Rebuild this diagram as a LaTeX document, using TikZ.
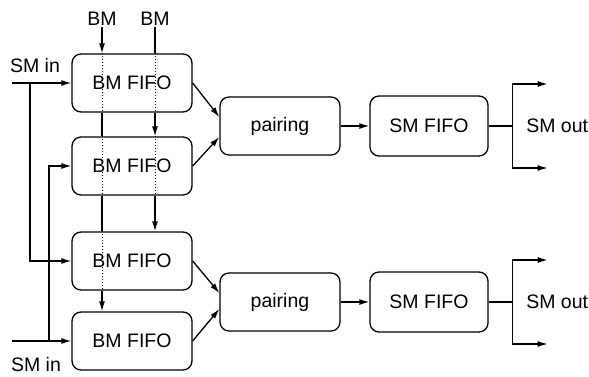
\documentclass[tikz,border=0pt]{standalone}
\usepackage{fontspec}
\setmainfont{Liberation Sans}
\usetikzlibrary{arrows.meta}

\begin{document}
\begin{tikzpicture}[x=1pt, y=-1pt, font=\fontsize{19.5}{23}\selectfont,
    line width=1.3pt, >={Latex[length=10pt,width=6pt]},
    fifo/.style={draw, rounded corners=9pt, minimum width=120pt,
                 minimum height=58pt, inner sep=0pt},
    label/.style={inner sep=1pt}]
        \useasboundingbox (0,0) rectangle (589,377);

        % BM FIFOs
        \node[fifo] (f1) at (132,83)  {BM FIFO};
        \node[fifo] (f2) at (132,166) {BM FIFO};
        \node[fifo] (f3) at (132,261) {BM FIFO};
        \node[fifo] (f4) at (132,341) {BM FIFO};

        % pairing and SM FIFOs
        \node[fifo] (p1) at (280,126) {pairing};
        \node[fifo] (p2) at (280,302) {pairing};
        \node[fifo, minimum width=118pt, minimum height=60pt] (s1) at (429,126) {SM FIFO};
        \node[fifo, minimum width=118pt, minimum height=60pt] (s2) at (429,302) {SM FIFO};

        % labels
        \node[label] (bmL) at (102,19) {BM};
        \node[label] (bmR) at (155,19) {BM};
        \node[label] (inA) at (35,66)  {SM in};
        \node[label] (inB) at (36,365) {SM in};

        % BM column left
        \draw[->] (bmL.south) -- (bmL.south |- f1.north);
        \draw (bmL.south |- f1.south) -- (bmL.south |- f2.north);
        \draw (bmL.south |- f2.south) -- (bmL.south |- f3.north);
        \draw[->] (bmL.south |- f3.south) -- (bmL.south |- f4.north);
        \foreach \f in {f1,f2,f3}
            \draw[dotted, line width=1pt] (bmL.south |- \f.north) -- (bmL.south |- \f.south);

        % BM column right
        \draw (bmR.south) -- (bmR.south |- f1.north);
        \draw[->] (bmR.south |- f1.south) -- (bmR.south |- f2.north);
        \draw[->] (bmR.south |- f2.south) -- (bmR.south |- f3.north);
        \foreach \f in {f1,f2}
            \draw[dotted, line width=1pt] (bmR.south |- \f.north) -- (bmR.south |- \f.south);

        % SM inputs
        \coordinate (inTop) at (12,83);
        \coordinate (brTop) at (30,83);
        \coordinate (inBot) at (12,341);
        \coordinate (brBot) at (49,341);
        \draw[->] (inTop) -- (f1.west);
        \draw[->] (brTop) |- (f3.west);
        \draw[->] (inBot) -- (f4.west);
        \draw[->] (brBot) |- (f2.west);

        % into pairing
        \draw[->] (f1.east) -- ([yshift=9pt]p1.west);
        \draw[->] (f2.east) -- ([yshift=-11pt]p1.west);
        \draw[->] (f3.east) -- ([yshift=9pt]p2.west);
        \draw[->] (f4.east) -- ([yshift=-7pt]p2.west);
        \draw[->] (p1) -- (s1);
        \draw[->] (p2) -- (s2);

        % SM outputs
        \foreach \s in {1,2} {
            \draw (s\s.east) -- ++(24,0) coordinate (b\s);
            \draw[->] (b\s) -- ++(0,-42) -- ++(35,0);
            \draw[->] (b\s) -- ++(0,42) -- ++(35,0);
            \node[label, anchor=west] (out\s) at ([xshift=12pt]b\s) {SM out};
        }
\end{tikzpicture}
\end{document}
